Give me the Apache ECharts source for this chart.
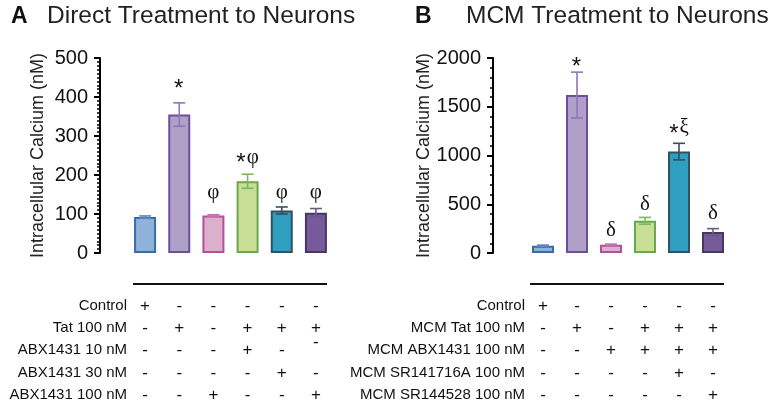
<!DOCTYPE html>
<html><head><meta charset="utf-8">
<script src="https://cdn.jsdelivr.net/npm/echarts@6/dist/echarts.min.js"></script>
<style>html,body{margin:0;padding:0;background:#fff}#c{width:771px;height:404px}</style>
</head><body><div id="c"></div>
<script>
// ---- data ----
const groups = ['G1','G2','G3','G4','G5','G6'];
const meansA = [92, 355, 96, 184, 109, 103];
const errA   = [3, 30, 2, 18, 9, 11];
const meansB = [75, 1620, 85, 330, 1040, 215];
const errB   = [6, 235, 6, 35, 85, 35];
const annTextA = ['', '*', 'φ', '*φ', 'φ', 'φ'];
const annAtA   = [null, 436, 154, 244, 154, 154];
const annTextB = ['', '*', 'δ', 'δ', '*ξ', 'δ'];
const annAtB   = [null, 1962, 233, 501, 1283, 408];
const rowLabelsA = ['Control', 'Tat 100 nM', 'ABX1431 10 nM', 'ABX1431 30 nM', 'ABX1431 100 nM'];
const rowsA = [
  ['+','-','-','-','-','-'],
  ['-','+','-','+','+','+'],
  ['-','-','-','+','-','-'],
  ['-','-','-','-','+','-'],
  ['-','-','+','-','-','+']
];
const rowLabelsB = ['Control', 'MCM Tat 100 nM', 'MCM ABX1431 100 nM', 'MCM SR141716A 100 nM', 'MCM SR144528 100 nM'];
const rowsB = [
  ['+','-','-','-','-','-'],
  ['-','+','-','+','+','+'],
  ['-','-','+','+','+','+'],
  ['-','-','-','-','+','-'],
  ['-','-','-','-','-','+']
];
const yTicksA = {min: 0, max: 500, interval: 100};
const yTicksB = {min: 0, max: 2000, interval: 500};

// ---- styles ----
const fills   = ['#8fb2da', '#b09fc6', '#dcafcb', '#c9de96', '#2e9fbf', '#765a9b'];
const borders = ['#3a6aa8', '#6b4f9e', '#b0509e', '#6aa84f', '#34505e', '#453a5e'];
const errCols = ['#5a86c0', '#8c78ba', '#c070b0', '#7cb860', '#34505e', '#6a5a88'];
const SANS = 'Liberation Sans, Arial, sans-serif';
const SERIF = 'Liberation Serif, DejaVu Serif, serif';
const rowOffsets = [53, 75, 97, 120, 142];

const chart = echarts.init(document.getElementById('c'));

function panel(gi, means, errs, annText, annAt, rowLabels, rows, yt, yOffset, minorSplit, nameGap) {
  const xAxes = [{
    type: 'category', gridIndex: gi, data: groups,
    axisLine: {show: false}, axisTick: {show: false}, axisLabel: {show: false}
  }];
  rows.forEach((r, ri) => {
    xAxes.push({
      type: 'category', gridIndex: gi, data: r, position: 'bottom', offset: rowOffsets[ri],
      axisLine: {show: false}, axisTick: {show: false},
      axisLabel: {
        interval: 0, margin: 0, verticalAlign: 'middle', fontSize: 17, color: '#111', fontFamily: SANS,
        formatter: (v, idx) => (gi === 0 && ri === 2 && idx === 5) ? '{up|' + v + '}' : v,
        rich: {up: {fontSize: 17, color: '#111', fontFamily: SANS, padding: [0, 0, 16, 0]}}
      },
      name: rowLabels[ri], nameLocation: 'start', nameGap: 1,
      nameTextStyle: {fontSize: 15, color: '#111', fontFamily: SANS, align: 'right', verticalAlign: 'middle'}
    });
  });
  const yAxis = {
    type: 'value', gridIndex: gi, min: yt.min, max: yt.max, interval: yt.interval, offset: yOffset,
    axisLine: {show: true, lineStyle: {color: '#000', width: 2}},
    axisTick: {show: true, length: 6, lineStyle: {color: '#000', width: 2}},
    minorTick: {show: true, splitNumber: minorSplit, length: 3, lineStyle: {color: '#000', width: 1.5}},
    splitLine: {show: false},
    axisLabel: {fontSize: 20, color: '#111', fontFamily: SANS, margin: 12, formatter: v => String(v)},
    name: 'Intracellular Calcium (nM)', nameLocation: 'middle', nameGap: nameGap,
    nameTextStyle: {fontSize: 18, color: '#222', fontFamily: SANS}
  };
  const xBase = gi === 0 ? 0 : 6;
  const series = [
    {
      type: 'bar', xAxisIndex: xBase, yAxisIndex: gi, barWidth: 22,
      data: means.map((m, i) => ({value: m, itemStyle: {color: fills[i], borderColor: borders[i], borderWidth: 2}})),
      z: 2
    },
    {
      type: 'custom', xAxisIndex: xBase, yAxisIndex: gi, z: 5,
      data: means.map((m, i) => [i, m, errs[i]]),
      renderItem: (params, api) => {
        const i = api.value(0), m = api.value(1), e = api.value(2);
        const t = api.coord([i, m + e]), b = api.coord([i, m - e]);
        const c = errCols[i], cap = 6;
        const st = {stroke: c, lineWidth: 1.6};
        return {type: 'group', children: [
          {type: 'line', shape: {x1: t[0], y1: t[1], x2: b[0], y2: b[1]}, style: st},
          {type: 'line', shape: {x1: t[0] - cap, y1: t[1], x2: t[0] + cap, y2: t[1]}, style: st},
          {type: 'line', shape: {x1: b[0] - cap, y1: b[1], x2: b[0] + cap, y2: b[1]}, style: st}
        ]};
      }
    },
    {
      type: 'custom', xAxisIndex: xBase, yAxisIndex: gi, z: 6,
      data: annAt.map((v, i) => [i, v == null ? 0 : v]).filter((d, i) => annText[i]),
      renderItem: (params, api) => {
        const i = api.value(0);
        const p = api.coord([i, api.value(1)]);
        const txt = annText[i];
        const parts = txt.split('').map(ch => ch === '*' ? '{s|*}' : '{g|' + ch + '}').join('');
        return {type: 'text', x: p[0], y: p[1], style: {
          text: parts, align: 'center', verticalAlign: 'middle',
          rich: {
            s: {fontSize: 24, fontFamily: SANS, fill: '#111', padding: [12, 1, 0, 0]},
            g: {fontSize: 21, fontFamily: SERIF, fill: '#111'}
          }
        }};
      }
    }
  ];
  return {xAxes, yAxis, series};
}

const pA = panel(0, meansA, errA, annTextA, annAtA, rowLabelsA, rowsA, yTicksA, 28, 10, 53);
const pB = panel(1, meansB, errB, annTextB, annAtB, rowLabelsB, rowsB, yTicksB, 33, 5, 58);

chart.setOption({
  animation: false,
  grid: [
    {left: 128, width: 205, top: 58, bottom: 151},
    {left: 526, width: 204, top: 58, bottom: 151}
  ],
  xAxis: pA.xAxes.concat(pB.xAxes),
  yAxis: [pA.yAxis, pB.yAxis],
  series: pA.series.concat(pB.series),
  title: [
    {text: 'A', left: 6, top: 0, textStyle: {fontSize: 23, fontWeight: 'bold', color: '#111', fontFamily: SANS}},
    {text: 'Direct Treatment to Neurons', left: 42, top: -1, textStyle: {fontSize: 24.5, fontWeight: 'normal', color: '#222', fontFamily: SANS}},
    {text: 'B', left: 410, top: 0, textStyle: {fontSize: 23, fontWeight: 'bold', color: '#111', fontFamily: SANS}},
    {text: 'MCM Treatment to Neurons', left: 461, top: -1, textStyle: {fontSize: 24.5, fontWeight: 'normal', color: '#222', fontFamily: SANS}}
  ],
  graphic: [
    {type: 'line', shape: {x1: 133, y1: 284, x2: 327, y2: 284}, style: {stroke: '#111', lineWidth: 2}},
    {type: 'line', shape: {x1: 530, y1: 284, x2: 724, y2: 284}, style: {stroke: '#111', lineWidth: 2}}
  ]
});
</script>
</body></html>
